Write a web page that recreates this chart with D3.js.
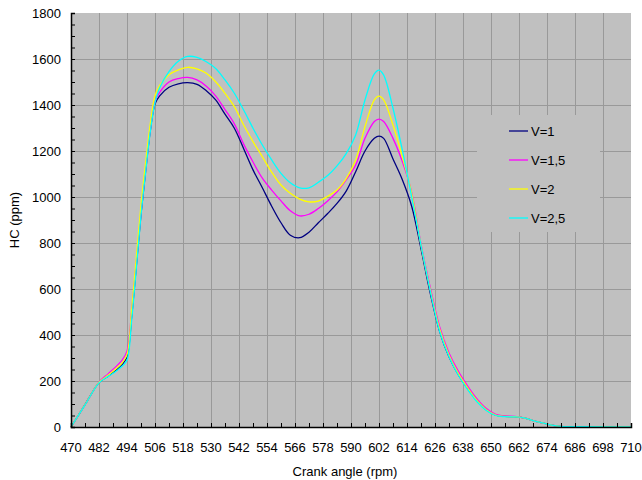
<!DOCTYPE html>
<html>
<head>
<meta charset="utf-8">
<script src="https://cdn.jsdelivr.net/npm/d3@7"></script>
<style>
  body { margin: 0; background: #fff; }
  svg text { font-family: "Liberation Sans", Arial, sans-serif; fill: #000; }
</style>
</head>
<body>
<svg id="chart" width="642" height="480"></svg>
<script>
// crank angle samples shared by every series
const angles = [470, 476, 482, 486, 490, 492, 494, 496, 498, 500,
  502, 504, 506, 508, 512, 516, 520, 524, 528, 532,
  536, 540, 544, 548, 552, 556, 560, 564, 568, 572,
  576, 580, 584, 588, 592, 596, 600, 602, 604, 608,
  612, 616, 620, 624, 628, 632, 636, 640, 644, 648,
  652, 656, 660, 664, 668, 672, 676, 680, 690, 700, 710];

const hcV1 = [0, 97, 193, 222, 252, 272, 305, 480, 700, 925,
  1115, 1290, 1405, 1440, 1477, 1492, 1497, 1490, 1462, 1422,
  1360, 1299, 1210, 1118, 1040, 960, 888, 834, 823, 847,
  888, 928, 972, 1027, 1110, 1200, 1255, 1265, 1255, 1165,
  1075, 960, 775, 580, 415, 305, 228, 168, 115, 75,
  52, 46, 45, 40, 28, 18, 8, 3, 1, 0, 0];

const hcV15 = [0, 97, 195, 232, 270, 292, 330, 505, 720, 935,
  1120, 1295, 1415, 1455, 1500, 1515, 1520, 1509, 1482, 1440,
  1380, 1318, 1230, 1152, 1082, 1030, 983, 940, 918, 925,
  950, 983, 1022, 1075, 1139, 1255, 1328, 1339, 1328, 1255,
  1154, 1020, 795, 605, 435, 322, 242, 178, 122, 80,
  55, 48, 46, 40, 28, 18, 8, 3, 1, 0, 0];

const hcV2 = [0, 97, 194, 226, 260, 280, 315, 510, 740, 965,
  1150, 1320, 1440, 1485, 1532, 1553, 1564, 1557, 1538, 1501,
  1451, 1393, 1313, 1241, 1175, 1108, 1052, 1016, 991, 979,
  982, 1003, 1030, 1081, 1161, 1306, 1422, 1439, 1422, 1313,
  1175, 1016, 790, 595, 425, 312, 232, 170, 115, 75,
  52, 46, 45, 40, 28, 18, 8, 3, 1, 0, 0];

const hcV25 = [0, 96, 192, 220, 248, 265, 290, 465, 690, 920,
  1110, 1285, 1410, 1475, 1545, 1590, 1611, 1607, 1588, 1559,
  1509, 1451, 1378, 1299, 1226, 1161, 1103, 1062, 1040, 1040,
  1064, 1093, 1135, 1190, 1270, 1422, 1535, 1552, 1530, 1386,
  1204, 1001, 790, 590, 415, 305, 225, 163, 110, 72,
  50, 45, 44, 40, 28, 18, 8, 3, 1, 0, 0];

const seriesNames = ["V=1", "V=1,5", "V=2", "V=2,5"];
const seriesColors = ["#000080", "#FF00FF", "#FFFF00", "#00FFFF"];
const seriesData = [hcV1, hcV15, hcV2, hcV25];

const xTicks = d3.range(470, 711, 12);
const yTicks = d3.range(0, 1801, 200);

const svg = d3.select("#chart");
const plotL = 71, plotR = 631, plotT = 13, plotB = 427;

const x = d3.scaleLinear().domain([470, 710]).range([plotL, plotR]);
const y = d3.scaleLinear().domain([0, 1800]).range([plotB, plotT]);

// plot background
svg.append("rect")
  .attr("x", plotL).attr("y", plotT)
  .attr("width", plotR - plotL).attr("height", plotB - plotT)
  .attr("fill", "#C0C0C0");

// grid
const grid = svg.append("g").attr("stroke", "#999").attr("stroke-width", 1);
grid.selectAll(".vg").data(xTicks.slice(1, -1)).join("line")
  .attr("x1", d => Math.round(x(d)) + 0.5).attr("x2", d => Math.round(x(d)) + 0.5)
  .attr("y1", plotT).attr("y2", plotB);
grid.selectAll(".hg").data(yTicks.slice(1, -1)).join("line")
  .attr("x1", plotL).attr("x2", plotR)
  .attr("y1", d => Math.round(y(d)) + 0.5).attr("y2", d => Math.round(y(d)) + 0.5);

// legend box hides the grid behind it
svg.append("rect")
  .attr("x", 477).attr("y", 115).attr("width", 123).attr("height", 117)
  .attr("fill", "#C0C0C0");

// curves
const line = d3.line()
  .x((d, i) => x(angles[i]))
  .y(d => y(Math.max(0, d)))
  .curve(d3.curveCatmullRom.alpha(0.5));

seriesData.forEach((vals, k) => {
  svg.append("path")
    .datum(vals)
    .attr("d", line)
    .attr("fill", "none")
    .attr("stroke", seriesColors[k])
    .attr("stroke-width", 1.3);
});

// axes, ticks pointing inward
const xAxis = d3.axisTop(x).tickValues(d3.range(470, 711, 6)).tickSize(4).tickFormat("");
svg.append("g").attr("transform", `translate(0,${plotB})`).call(xAxis)
  .call(g => g.select(".domain").attr("stroke-width", 1.5));
const yAxis = d3.axisRight(y).tickValues(d3.range(0, 1801, 50)).tickSize(4).tickFormat("");
svg.append("g").attr("transform", `translate(${plotL},0)`).call(yAxis)
  .call(g => g.select(".domain").attr("stroke-width", 1.5));

// tick labels
svg.append("g").selectAll("text").data(xTicks).join("text")
  .attr("x", d => x(d)).attr("y", 452)
  .attr("text-anchor", "middle").attr("font-size", 13)
  .text(d => d);
svg.append("g").selectAll("text").data(yTicks).join("text")
  .attr("x", 61).attr("y", d => y(d) + 4.5)
  .attr("text-anchor", "end").attr("font-size", 13)
  .text(d => d);

// axis titles
svg.append("text")
  .attr("x", 345).attr("y", 476)
  .attr("text-anchor", "middle").attr("font-size", 13)
  .text("Crank angle (rpm)");
svg.append("text")
  .attr("transform", "translate(19,220) rotate(-90)")
  .attr("text-anchor", "middle").attr("font-size", 13)
  .text("HC (ppm)");

// legend
const legend = svg.append("g");
seriesNames.forEach((name, k) => {
  const ly = 131 + k * 29;
  legend.append("line")
    .attr("x1", 509).attr("x2", 528).attr("y1", ly).attr("y2", ly)
    .attr("stroke", seriesColors[k]).attr("stroke-width", 1.3);
  legend.append("text")
    .attr("x", 531).attr("y", ly + 4.5).attr("font-size", 13)
    .text(name);
});
</script>
</body>
</html>
